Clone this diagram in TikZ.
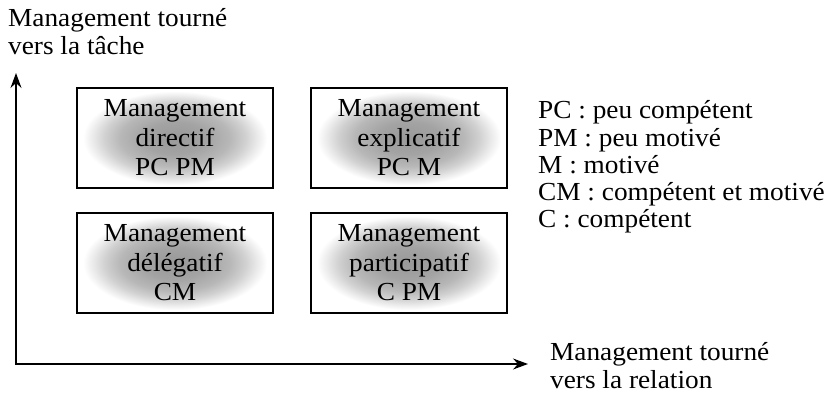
\documentclass[tikz,border=0pt]{standalone}
\usepackage{fontspec}
\setmainfont{Liberation Serif}[FakeStretch=1.05]
\usetikzlibrary{arrows.meta}

% soft grey glow: a 100bp disc, stretched over the whole box below
\pgfdeclareradialshading{boxglow}{\pgfpoint{0bp}{0bp}}{%
  color(0bp)=(black!40); color(16bp)=(black!36); color(28bp)=(black!28);
  color(36bp)=(black!18); color(42bp)=(black!8); color(47bp)=(white);
  color(50bp)=(white)}

\tikzset{
  glow/.style={path picture={%
    \pgftransformshift{\pgfpointanchor{path picture bounding box}{center}}%
    \pgftransformxscale{1.953}\pgftransformyscale{0.997}%
    \pgftext{\pgfuseshading{boxglow}}}},
  stylebox/.style={draw=black, line width=1.1pt, glow,
    minimum width=196pt, minimum height=100pt, inner sep=0pt,
    align=center, font=\fontsize{26}{29.5}\selectfont},
  axis/.style={line width=1.2pt, >={Stealth[length=15pt,width=11pt,inset=5pt]}, <->},
  label/.style={align=left, inner sep=0pt, font=\fontsize{26}{28}\selectfont},
  legend/.style={align=left, inner sep=0pt, font=\fontsize{26}{27.3}\selectfont}
}

\begin{document}
\begin{tikzpicture}[x=1pt, y=1pt]
  \useasboundingbox (0,0) rectangle (833,394);

  % axes
  \coordinate (origin) at (16,30);
  \coordinate (ytip) at (16,321);
  \coordinate (xtip) at (528,30);
  \draw[axis] (ytip) -- (origin) -- (xtip);

  % axis titles (anchored on the baseline of their last line)
  \node[label, anchor=base west] (ylabel) at (8,339) {Management tourné\\vers la tâche};
  \node[label, anchor=base west] (xlabel) at (550,6) {Management tourné\\vers la relation};

  % the four management styles
  \node[stylebox] (directif) at (175,256) {Management\\directif\\PC PM};
  \node[stylebox] (explicatif) at (409,256) {Management\\explicatif\\PC M};
  \node[stylebox] (delegatif) at (175,131) {Management\\délégatif\\CM};
  \node[stylebox] (participatif) at (409,131) {Management\\participatif\\C PM};

  % abbreviations
  \node[legend, anchor=base west] (legend) at (538,166)
    {PC : peu compétent\\PM : peu motivé\\M : motivé\\CM : compétent et motivé\\C : compétent};
\end{tikzpicture}
\end{document}
